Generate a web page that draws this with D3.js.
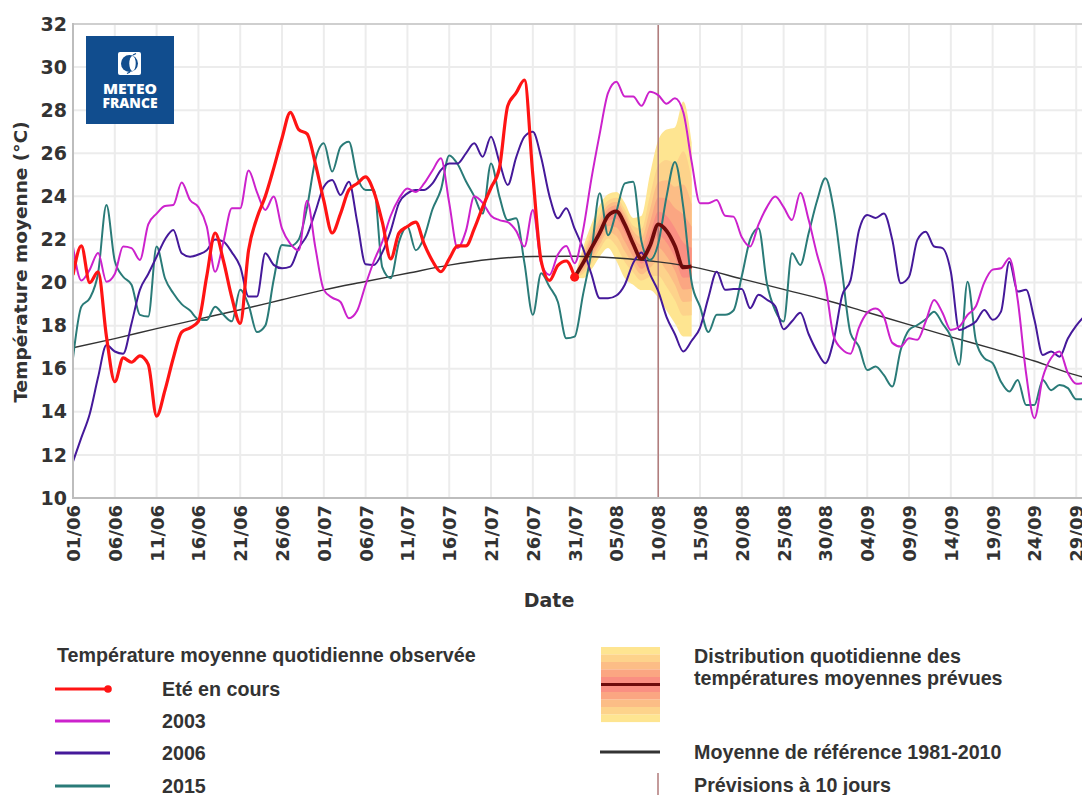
<!DOCTYPE html>
<html>
<head>
<meta charset="utf-8">
<script src="https://cdn.jsdelivr.net/npm/d3@7"></script>
<style>
  body { margin: 0; background: #fff; }
  svg { display: block; }
</style>
</head>
<body>
<svg id="chart" width="1082" height="795"></svg>
<script>
// ---- data (day 0 = 01/06) ----
const xTickDays = [0,5,10,15,20,25,30,35,40,45,50,55,60,65,70,75,80,85,90,95,100,105,110,115,120];
const xTickLabels = ["01/06","06/06","11/06","16/06","21/06","26/06","01/07","06/07","11/07","16/07",
  "21/07","26/07","31/07","05/08","10/08","15/08","20/08","25/08","30/08","04/09","09/09","14/09",
  "19/09","24/09","29/09"];
const yTicks = [10,12,14,16,18,20,22,24,26,28,30,32];

// été en cours, 01/06 -> 31/07
const current = [20.35,21.7,20.0,20.5,17.5,15.4,16.5,16.3,16.6,16.2,
  13.8,15.0,16.5,17.7,17.9,18.2,20.3,22.3,21.0,19.3,
  18.1,21.5,23.0,24.0,25.3,26.7,27.9,27.1,26.9,25.5,
  23.8,22.3,23.2,24.3,24.6,24.9,24.2,22.8,21.1,22.3,
  22.6,22.8,21.8,21.0,20.5,21.1,21.7,21.7,22.5,23.5,
  24.4,25.3,28.2,28.8,29.4,25.0,21.0,20.1,20.8,21.0,20.25];

const y2003 = [21.67,20.1,20.6,21.37,20.04,20.4,21.67,21.6,21.05,22.7,
  23.2,23.55,23.6,24.64,23.83,23.5,22.6,20.5,21.9,23.45,
  23.45,25.2,24.2,23.37,23.99,22.5,21.8,21.5,23.8,21.6,
  19.66,19.3,19.1,18.34,18.7,19.9,21.0,21.9,23.1,23.9,
  24.37,24.2,24.6,25.2,25.77,23.7,21.6,22.4,24.0,23.7,
  23.1,22.9,22.8,22.4,21.67,23.37,20.9,20.35,21.3,21.7,
  20.9,22.4,24.8,26.9,28.8,29.32,28.63,28.63,28.2,28.86,
  28.7,28.3,28.55,27.9,25.6,23.68,23.68,23.83,23.1,23.06,
  22.1,21.67,22.7,23.5,23.99,23.5,22.9,24.17,22.9,21.3,
  19.9,17.49,16.9,16.7,17.9,18.6,18.8,18.4,17.2,17.03,
  17.41,17.34,18.2,19.19,18.6,17.8,17.95,18.5,18.9,20.0,
  20.6,20.66,21.13,19.19,15.79,13.7,15.6,16.5,16.8,15.8,15.3,15.35];

const y2006 = [11.69,12.8,13.9,15.6,17.1,16.8,16.7,18.1,19.66,20.4,
  21.2,22.0,22.44,21.36,21.2,21.3,21.5,22.0,21.9,21.4,
  20.74,19.35,19.35,21.36,20.82,20.66,20.74,21.6,22.2,23.3,
  24.45,24.76,24.06,24.68,22.8,20.85,20.82,21.4,22.4,23.7,
  24.14,24.3,24.3,24.6,25.22,25.53,25.53,26.0,26.46,25.84,
  26.77,25.6,24.53,25.8,26.77,27.0,25.8,24.0,22.98,23.45,
  22.5,21.6,20.4,19.27,19.27,19.4,19.9,20.9,21.4,20.4,
  19.6,18.4,17.6,16.8,17.3,17.9,19.3,20.5,19.66,19.7,
  19.7,18.81,19.43,19.2,18.9,17.83,18.2,18.6,17.6,16.8,
  16.26,17.34,19.4,20.1,22.4,23.14,23.0,23.2,21.98,19.97,
  20.27,21.98,22.36,21.67,21.6,20.5,17.8,17.95,18.19,18.73,
  18.27,18.65,20.97,19.58,19.66,18.27,16.64,16.8,16.56,17.4,18.0,18.45];

const y2015 = [16.49,18.88,19.27,20.43,23.6,21.0,20.27,19.9,18.5,18.42,
  21.67,20.2,19.5,19.0,18.7,18.3,18.26,18.88,18.5,18.2,
  19.66,18.96,17.7,18.0,20.12,21.74,21.7,22.0,23.5,25.7,
  26.46,25.15,26.3,26.54,24.9,24.3,24.3,20.7,20.2,21.9,
  22.6,21.5,22.1,23.4,24.3,25.9,25.5,24.7,24.0,23.2,
  25.53,24.0,22.9,22.98,20.9,18.5,20.43,19.8,19.1,17.41,
  17.49,19.43,21.4,24.14,22.2,23.3,24.6,24.68,21.9,21.05,
  21.8,24.0,25.6,23.5,20.0,18.88,17.7,18.5,18.5,18.7,
  20.3,22.0,22.52,19.97,18.7,18.19,21.36,20.82,22.3,23.8,
  24.84,23.37,20.5,17.65,17.03,15.94,16.1,15.7,15.17,16.87,
  17.8,18.03,18.3,18.65,18.1,17.49,16.18,20.04,17.3,16.49,
  16.26,15.4,14.94,15.48,14.32,14.32,15.48,15.0,15.25,15.1,14.58,14.58];

// moyenne de référence 1981-2010
const refDays   = [0,5,10,15,20,25,30,35,40,45,50,55,60,65,70,75,80,85,90,95,100,105,110,115,120,121];
const refValues = [16.97,17.4,17.86,18.3,18.74,19.2,19.66,20.05,20.43,20.81,21.08,21.21,21.22,21.14,
  20.96,20.66,20.17,19.68,19.19,18.62,18.05,17.48,16.93,16.36,15.7,15.6];

// prévision : jours 60 (31/07) -> 74
const fcStart = 60;
const fcMedian = [20.25,20.9,21.6,22.3,23.1,23.3,22.7,21.8,21.1,21.7,22.7,22.4,21.7,20.7,20.75];
const fcQ0   = [20.25,20.2,20.6,21.2,21.6,21.0,20.2,19.9,19.65,19.65,19.3,18.7,18.1,17.5,17.5];
const fcQ10  = [20.25,20.41,20.9,21.53,22.05,21.69,20.95,20.47,20.09,20.27,20.32,19.81,19.18,18.46,18.48];
const fcQ20  = [20.25,20.55,21.1,21.75,22.35,22.15,21.45,20.85,20.38,20.68,21.0,20.55,19.9,19.1,19.13];
const fcQ30  = [20.25,20.68,21.28,21.95,22.62,22.56,21.9,21.19,20.64,21.04,21.61,21.22,20.55,19.68,19.71];
const fcQ40  = [20.25,20.8,21.45,22.14,22.88,22.96,22.33,21.52,20.88,21.39,22.19,21.85,21.16,20.22,20.26];
const fcQ60  = [20.25,21.0,21.77,22.5,23.25,23.44,22.85,21.98,21.4,22.2,23.29,23.1,22.53,21.86,21.61];
const fcQ70  = [20.25,21.12,21.95,22.72,23.42,23.59,23.02,22.18,21.74,22.76,23.95,23.9,23.46,23.16,22.59];
const fcQ80  = [20.25,21.25,22.15,22.95,23.6,23.75,23.2,22.4,22.1,23.35,24.65,24.75,24.45,24.55,23.63];
const fcQ90  = [20.25,21.39,22.37,23.21,23.8,23.93,23.4,22.64,22.5,24.01,25.43,25.69,25.55,26.09,24.78];
const fcQ100 = [20.25,21.6,22.7,23.6,24.1,24.2,23.7,23.0,23.1,25.0,26.6,27.1,27.2,28.4,26.5];
const forecastDay = 70; // 10/08

const bandColors = ["#fee591","#fdd38b","#fcbd86","#fba682","#fa8f82"];
const colors = { current: "#ff1414", y2003: "#cc22cc", y2006: "#45199a", y2015: "#2a7b78",
  ref: "#333333", median: "#6e0b0b", fcLine: "#b07a7a" };

// ---- layout ----
const svg = d3.select("#chart");
const plot = { left: 73, top: 24, right: 1084.6, bottom: 498 };
const x = d3.scaleLinear().domain([0, 121]).range([plot.left, plot.right]);
const y = d3.scaleLinear().domain([10, 32]).range([plot.bottom, plot.top]);

svg.append("defs").append("clipPath").attr("id", "clip")
  .append("rect").attr("x", plot.left).attr("y", plot.top)
  .attr("width", plot.right - plot.left).attr("height", plot.bottom - plot.top);

// grid
const grid = svg.append("g");
grid.selectAll(".hg").data(yTicks).join("line")
  .attr("x1", plot.left).attr("x2", plot.right)
  .attr("y1", d => y(d)).attr("y2", d => y(d))
  .attr("stroke", "#ececec").attr("stroke-width", 2);
grid.selectAll(".vg").data(xTickDays).join("line")
  .attr("x1", d => x(d)).attr("x2", d => x(d))
  .attr("y1", plot.top).attr("y2", plot.bottom)
  .attr("stroke", "#ececec").attr("stroke-width", 2);

const g = svg.append("g").attr("clip-path", "url(#clip)");

// forecast distribution
const bands = [[fcQ0, fcQ100], [fcQ10, fcQ90], [fcQ20, fcQ80], [fcQ30, fcQ70], [fcQ40, fcQ60]];
const area = d3.area()
  .x((d, i) => x(fcStart + i))
  .y0(d => y(d[0])).y1(d => y(d[1]))
  .curve(d3.curveMonotoneX);
bands.forEach(([lo, hi], k) => {
  g.append("path").datum(lo.map((v, i) => [v, hi[i]]))
    .attr("d", area).attr("fill", bandColors[k]);
});

// forecast limit
g.append("line")
  .attr("x1", x(forecastDay)).attr("x2", x(forecastDay))
  .attr("y1", plot.top).attr("y2", plot.bottom)
  .attr("stroke", colors.fcLine).attr("stroke-width", 1.5);

const lineDaily = d3.line().x((d, i) => x(i)).y(d => y(d)).curve(d3.curveMonotoneX);

g.append("path").datum(refDays.map((d, i) => [d, refValues[i]]))
  .attr("d", d3.line().x(d => x(d[0])).y(d => y(d[1])).curve(d3.curveMonotoneX))
  .attr("fill", "none").attr("stroke", colors.ref).attr("stroke-width", 1.4);

[["y2015", y2015], ["y2006", y2006], ["y2003", y2003]].forEach(([k, vals]) => {
  g.append("path").datum(vals).attr("d", lineDaily)
    .attr("fill", "none").attr("stroke", colors[k]).attr("stroke-width", 2);
});

g.append("path").datum(current).attr("d", lineDaily)
  .attr("fill", "none").attr("stroke", colors.current).attr("stroke-width", 3.2)
  .attr("stroke-linejoin", "round");

g.append("path").datum(fcMedian)
  .attr("d", d3.line().x((d, i) => x(fcStart + i)).y(d => y(d)).curve(d3.curveMonotoneX))
  .attr("fill", "none").attr("stroke", colors.median).attr("stroke-width", 3.8);

g.append("circle")
  .attr("cx", x(current.length - 1)).attr("cy", y(current[current.length - 1]))
  .attr("r", 4.5).attr("fill", colors.current);

// frame
svg.append("line").attr("x1", plot.left).attr("x2", plot.right).attr("y1", plot.top).attr("y2", plot.top)
  .attr("stroke", "#cfcfcf").attr("stroke-width", 2);
svg.append("line").attr("x1", plot.left).attr("x2", plot.left).attr("y1", plot.top - 1).attr("y2", plot.bottom + 1)
  .attr("stroke", "#bdbdbd").attr("stroke-width", 2);
svg.append("line").attr("x1", plot.left).attr("x2", plot.right).attr("y1", plot.bottom).attr("y2", plot.bottom)
  .attr("stroke", "#bdbdbd").attr("stroke-width", 2);

// axes
const axisFont = "'DejaVu Sans', sans-serif";
const yAxis = svg.append("g").attr("transform", `translate(${plot.left},0)`)
  .call(d3.axisLeft(y).tickValues(yTicks).tickSize(0).tickPadding(6));
yAxis.select(".domain").remove();
yAxis.selectAll("text").attr("font-family", axisFont).attr("font-weight", "bold")
  .attr("font-size", 19).attr("fill", "#333");

const xAxis = svg.append("g").attr("transform", `translate(0,${plot.bottom})`)
  .call(d3.axisBottom(x).tickValues(xTickDays).tickFormat((d, i) => xTickLabels[i]).tickSize(0));
xAxis.select(".domain").remove();
xAxis.selectAll("text")
  .attr("font-family", axisFont).attr("font-weight", "bold").attr("font-size", 18).attr("fill", "#333")
  .attr("transform", "rotate(-90)").attr("text-anchor", "end")
  .attr("x", -7).attr("y", 0).attr("dy", "0.36em");

svg.append("text").attr("x", 549).attr("y", 607).attr("text-anchor", "middle")
  .attr("font-family", axisFont).attr("font-weight", "bold").attr("font-size", 19).attr("fill", "#333")
  .text("Date");
svg.append("text").attr("transform", "translate(27,262) rotate(-90)").attr("text-anchor", "middle")
  .attr("font-family", axisFont).attr("font-weight", "bold").attr("font-size", 18.5).attr("fill", "#333")
  .text("Température moyenne (°C)");

// logo
const logo = svg.append("g");
logo.append("rect").attr("x", 86).attr("y", 36).attr("width", 88).attr("height", 88).attr("fill", "#114d8e");
logo.append("rect").attr("x", 118).attr("y", 52).attr("width", 23).attr("height", 23).attr("rx", 2).attr("fill", "#fff");
logo.append("circle").attr("cx", 129.5).attr("cy", 63.5).attr("r", 8.5).attr("fill", "#114d8e");
logo.append("ellipse").attr("cx", 132.5).attr("cy", 63.5).attr("rx", 3.2).attr("ry", 7.5).attr("fill", "#fff");
logo.append("path").attr("d", "M133,55 l3,-1.5 M130,72 l-3,1.5").attr("stroke", "#114d8e").attr("stroke-width", 1.2);
logo.append("text").attr("x", 130).attr("y", 94).attr("text-anchor", "middle")
  .attr("font-family", "'Open Sans', sans-serif").attr("font-weight", 800).attr("font-size", 12)
  .attr("fill", "#fff").attr("textLength", 54).attr("lengthAdjust", "spacingAndGlyphs")
  .attr("transform", "translate(130,94) scale(1,1.15) translate(-130,-94)").text("METEO");
logo.append("text").attr("x", 130).attr("y", 108).attr("text-anchor", "middle")
  .attr("font-family", "'Open Sans', sans-serif").attr("font-weight", 800).attr("font-size", 12)
  .attr("fill", "#fff").attr("textLength", 55).attr("lengthAdjust", "spacingAndGlyphs")
  .attr("transform", "translate(130,108) scale(1,1.15) translate(-130,-108)").text("FRANCE");

// legend
const legFont = "'Liberation Sans', Arial, sans-serif";
const leg = svg.append("g").attr("font-family", legFont).attr("font-weight", "bold")
  .attr("font-size", 19.7).attr("fill", "#333");
leg.append("text").attr("x", 57).attr("y", 662).text("Température moyenne quotidienne observée");
const legRows = [
  { label: "Eté en cours", color: colors.current, w: 3, dot: true, y: 689 },
  { label: "2003", color: colors.y2003, w: 3, y: 721 },
  { label: "2006", color: colors.y2006, w: 3, y: 753 },
  { label: "2015", color: colors.y2015, w: 3, y: 786 }
];
legRows.forEach(r => {
  leg.append("line").attr("x1", 55).attr("x2", 110).attr("y1", r.y).attr("y2", r.y)
    .attr("stroke", r.color).attr("stroke-width", r.w);
  if (r.dot) leg.append("circle").attr("cx", 108).attr("cy", r.y).attr("r", 3.8).attr("fill", r.color);
  leg.append("text").attr("x", 162).attr("y", r.y + 7).text(r.label);
});

// distribution swatch
const stripeColors = bandColors.concat(bandColors.slice().reverse());
stripeColors.forEach((c, i) => {
  leg.append("rect").attr("x", 601).attr("y", 647 + i * 7.5).attr("width", 59).attr("height", 7.6).attr("fill", c);
});
leg.append("line").attr("x1", 601).attr("x2", 660).attr("y1", 684.5).attr("y2", 684.5)
  .attr("stroke", colors.median).attr("stroke-width", 3);
leg.append("text").attr("x", 694).attr("y", 663).text("Distribution quotidienne des");
leg.append("text").attr("x", 694).attr("y", 685).text("températures moyennes prévues");

leg.append("line").attr("x1", 600).attr("x2", 660).attr("y1", 752).attr("y2", 752)
  .attr("stroke", colors.ref).attr("stroke-width", 3);
leg.append("text").attr("x", 694).attr("y", 759).text("Moyenne de référence 1981-2010");
leg.append("line").attr("x1", 658).attr("x2", 658).attr("y1", 773).attr("y2", 795)
  .attr("stroke", colors.fcLine).attr("stroke-width", 1.5);
leg.append("text").attr("x", 694).attr("y", 792).text("Prévisions à 10 jours");
</script>
</body>
</html>
